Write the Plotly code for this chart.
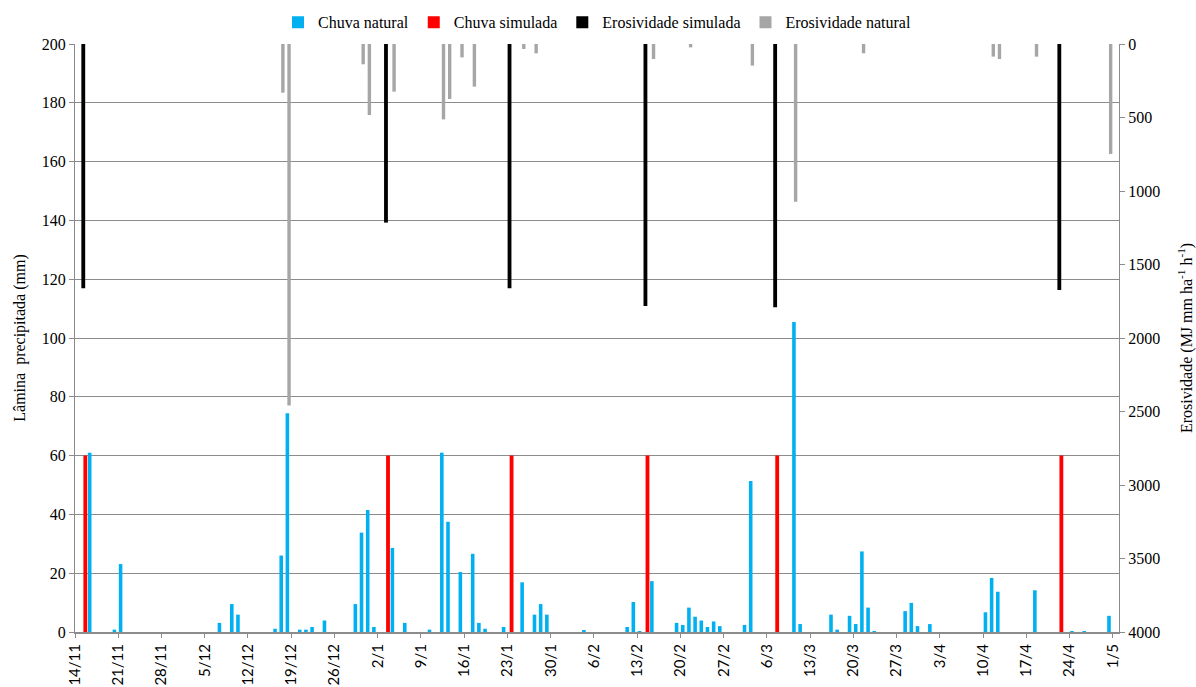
import plotly.graph_objects as go

# ---------------- data ----------------
chuva_natural_dates = [
    "2010-11-16", "2010-11-20", "2010-11-21", "2010-12-07", "2010-12-09", "2010-12-10",
    "2010-12-16", "2010-12-17", "2010-12-18", "2010-12-20", "2010-12-21", "2010-12-22",
    "2010-12-24", "2010-12-29", "2010-12-30", "2010-12-31", "2011-01-01", "2011-01-04",
    "2011-01-06", "2011-01-10", "2011-01-12", "2011-01-13", "2011-01-15", "2011-01-17",
    "2011-01-18", "2011-01-19", "2011-01-22", "2011-01-25", "2011-01-27", "2011-01-28",
    "2011-01-29", "2011-02-04", "2011-02-11", "2011-02-12", "2011-02-13", "2011-02-15",
    "2011-02-19", "2011-02-20", "2011-02-21", "2011-02-22", "2011-02-23", "2011-02-24",
    "2011-02-25", "2011-02-26", "2011-03-02", "2011-03-03", "2011-03-10", "2011-03-11",
    "2011-03-16", "2011-03-17", "2011-03-19", "2011-03-20", "2011-03-21", "2011-03-22",
    "2011-03-23", "2011-03-28", "2011-03-29", "2011-03-30", "2011-04-01", "2011-04-10",
    "2011-04-11", "2011-04-12", "2011-04-18", "2011-04-24", "2011-04-26", "2011-04-30",
]
chuva_natural = [
    61.0, 0.8, 23.1, 3.1, 9.5, 5.9,
    1.1, 26.0, 74.4, 0.8, 0.8, 1.7,
    3.9, 9.5, 33.8, 41.5, 1.7, 28.6,
    3.1, 0.8, 61.0, 37.5, 20.4, 26.6,
    3.1, 1.1, 1.7, 16.9, 5.9, 9.5,
    5.9, 0.4, 1.7, 10.2, 0.3, 17.3,
    3.1, 2.4, 8.3, 5.2, 3.9, 1.7,
    3.6, 2.0, 2.4, 51.4, 105.4, 2.7,
    5.9, 0.8, 5.5, 2.7, 27.4, 8.3,
    0.3, 7.1, 9.9, 2.0, 2.7, 6.7,
    18.4, 13.7, 14.2, 0.3, 0.3, 5.5,
]

simulada_dates = ["2010-11-15", "2011-01-03", "2011-01-23", "2011-02-14", "2011-03-07", "2011-04-22"]
chuva_simulada = [60, 60, 60, 60, 60, 60]
erosividade_simulada = [1662, 1215, 1662, 1782, 1791, 1673]

erosividade_natural_dates = [
    "2010-12-17", "2010-12-18", "2010-12-30", "2010-12-31", "2011-01-04", "2011-01-12",
    "2011-01-13", "2011-01-15", "2011-01-17", "2011-01-25", "2011-01-27", "2011-02-15",
    "2011-02-21", "2011-03-03", "2011-03-10", "2011-03-21", "2011-04-11", "2011-04-12",
    "2011-04-18", "2011-04-30",
]
erosividade_natural = [
    331, 2460, 138, 483, 324, 513,
    374, 91, 290, 34, 63, 102,
    23, 147, 1073, 63, 86, 102,
    86, 748,
]

x_range = ["2010-11-14", "2011-05-02"]
left_ticks = list(range(0, 201, 20))
right_ticks = list(range(0, 4001, 500))

# ---------------- styling ----------------
DAY = 86400000
SERIF = "Liberation Serif"
GRID = "#8c8c8c"

def bar(name, x, y, color, center, width, axis):
    return go.Bar(
        name=name, x=x, y=y, yaxis=axis,
        marker=dict(color=color, line=dict(width=0)),
        width=width * DAY, offset=(center - width / 2) * DAY,
    )

fig = go.Figure()
fig.add_trace(bar("Chuva natural", chuva_natural_dates, chuva_natural, "#00b0f0", 0.38, 0.58, "y"))
fig.add_trace(bar("Chuva simulada", simulada_dates, chuva_simulada, "#ff0000", 0.67, 0.62, "y"))
fig.add_trace(bar("Erosividade simulada", simulada_dates, erosividade_simulada, "#000000", 0.34, 0.62, "y2"))
fig.add_trace(bar("Erosividade natural", erosividade_natural_dates, erosividade_natural, "#a6a6a6", 0.65, 0.55, "y2"))

fig.update_layout(
    width=1196, height=687,
    margin=dict(l=75, r=77, t=44, b=55, autoexpand=False),
    paper_bgcolor="white", plot_bgcolor="white",
    barmode="overlay",
    font=dict(family=SERIF, size=15, color="black"),
    showlegend=True,
    legend=dict(
        orientation="h", x=0.5, xanchor="center", y=1.037, yanchor="middle",
        font=dict(family=SERIF, size=16, color="black"),
        itemwidth=30, traceorder="normal",
    ),
    xaxis=dict(
        type="date", range=x_range, automargin=False,
        tick0=x_range[0], dtick=7 * DAY, tickformat="%-d/%-m",
        tickangle=-90, ticks="outside", ticklen=4, tickcolor=GRID,
        tickfont=dict(family="Lato", size=15, color="black"),
        showgrid=False, showline=True, linecolor=GRID, linewidth=2,
        zeroline=False,
    ),
    yaxis=dict(
        range=[0, 200], tickvals=left_ticks, automargin=False,
        ticks="outside", ticklen=5, tickcolor=GRID,
        showgrid=True, gridcolor=GRID, gridwidth=1,
        showline=True, linecolor=GRID, linewidth=1,
        zeroline=False,
        tickfont=dict(family=SERIF, size=16, color="black"),
        title=dict(text="Lâmina  precipitada (mm)", standoff=12,
                   font=dict(family=SERIF, size=16, color="black")),
    ),
    yaxis2=dict(
        overlaying="y", side="right", range=[4000, 0], tickvals=right_ticks,
        automargin=False,
        ticks="outside", ticklen=5, tickcolor=GRID,
        showgrid=False, showline=True, linecolor=GRID, linewidth=1,
        zeroline=False,
        tickfont=dict(family=SERIF, size=16, color="black"),
        title=dict(text="Erosividade (MJ mm ha<sup>-1</sup> h<sup>-1</sup>)", standoff=22,
                   font=dict(family=SERIF, size=16, color="black")),
    ),
)

fig.write_html("out.html")
